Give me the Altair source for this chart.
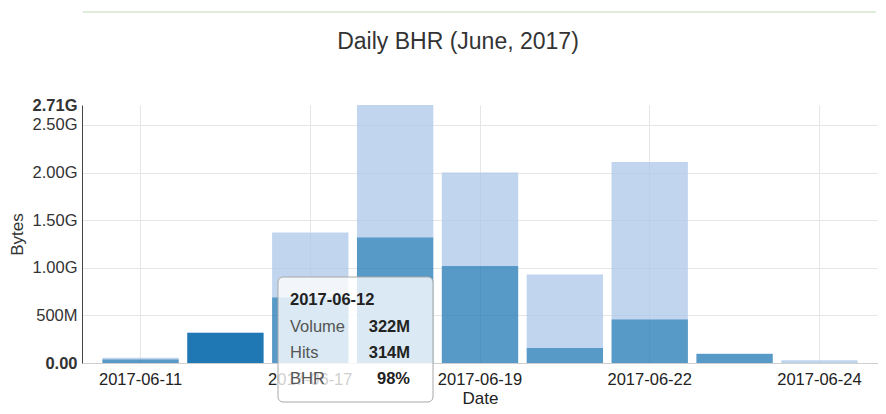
import altair as alt
import pandas as pd

# ---- data ----
dates = ["2017-06-11", "2017-06-12", "2017-06-17", "2017-06-18", "2017-06-19",
         "2017-06-21", "2017-06-22", "2017-06-23", "2017-06-24"]
volume = [56e6, 322e6, 1.37e9, 2.71e9, 2.00e9, 0.93e9, 2.11e9, 0.10e9, 0.03e9]
hits = [40e6, 314e6, 0.69e9, 1.32e9, 1.02e9, 0.16e9, 0.46e9, 0.095e9, 0.002e9]
label_dates = ["2017-06-11", "2017-06-17", "2017-06-19", "2017-06-22", "2017-06-24"]
y_ticks = [0, 5e8, 1e9, 1.5e9, 2e9, 2.5e9, 2.71e9]
hover_date = "2017-06-12"
tooltip_volume = "322M"
tooltip_hits = "314M"

FONT = "Liberation Sans"
W, H = 796, 258

df = pd.DataFrame({"date": dates, "volume": volume, "hits": hits})
df["miss_top"] = df["volume"]

xenc = alt.X(
    "date:N", sort=dates,
    scale=alt.Scale(paddingInner=0.1, paddingOuter=0.24),
    axis=alt.Axis(
        values=label_dates, labelAngle=0, labelFont=FONT, labelFontSize=16.5,
        labelColor="#222", labelPadding=8, ticks=False, domainColor="#cfcfcf",
        gridColor="#e6e6e6", grid=True, title="Date", titleFont=FONT,
        titleFontSize=17, titleFontWeight="normal", titleColor="#222",
        titlePadding=3,
    ),
)

yaxis = alt.Axis(
    values=y_ticks,
    labelExpr="datum.value == 0 ? '0.00' : (datum.value < 1e9 ? format(datum.value/1e6, 'd') + 'M' : format(datum.value/1e9, '.2f') + 'G')",
    labelFont=FONT, labelFontSize=16.5, labelColor="#333", labelPadding=5,
    labelOverlap=False,
    labelFontWeight={"condition": {"test": "datum.value == 0 || datum.value > 2.6e9", "value": "bold"}, "value": "normal"},
    ticks=False, domainColor="#444",
    grid=True, gridColor="#e6e6e6",
    gridOpacity={"condition": {"test": "datum.value > 2.6e9", "value": 0}, "value": 1},
    title="Bytes", titleFont=FONT, titleFontSize=17, titleFontWeight="normal",
    titleColor="#333", titleX=-65, titleY=H / 2, titleAngle=-90,
    titleAlign="center", titleBaseline="middle",
)

opacity = alt.condition(alt.datum.date == hover_date, alt.value(1.0), alt.value(0.75))

hits_bar = alt.Chart(df).mark_bar(color="#1f77b4").encode(
    x=xenc,
    y=alt.Y("hits:Q", scale=alt.Scale(domain=[0, 2.71e9], nice=False, zero=True), axis=yaxis),
    fillOpacity=opacity,
)

miss_bar = alt.Chart(df).mark_bar(color="#aec7e8").encode(
    x=alt.X("date:N", sort=dates),
    y=alt.Y("hits:Q"),
    y2=alt.Y2("miss_top:Q"),
    fillOpacity=opacity,
)

# top decorative separator line
sep = alt.Chart(pd.DataFrame({"k": [0]})).mark_rule(color="#d3e6cb", strokeWidth=1.5).encode(
    x=alt.value(1), x2=alt.value(W - 2), y=alt.value(-93)
)

# tooltip overlay
hv = df[df["date"] == hover_date].iloc[0]
bhr = f"{round(hv['hits'] / hv['volume'] * 100):d}%"
one = pd.DataFrame({"k": [0]})
box = alt.Chart(one).mark_rect(
    fill="white", fillOpacity=0.78, stroke="#a8a8a8", strokeWidth=1, cornerRadius=5
).encode(x=alt.value(196), x2=alt.value(351), y=alt.value(172), y2=alt.value(297))

def txt(s, x, y, bold=False, color="#555", align="left"):
    return alt.Chart(one).mark_text(
        text=s, font=FONT, fontSize=16.5, fontWeight="bold" if bold else "normal",
        color=color, align=align, baseline="middle"
    ).encode(x=alt.value(x), y=alt.value(y))

tip = [
    txt(hover_date, 208, 195, bold=True, color="#222"),
    txt("Volume", 208, 222),
    txt(tooltip_volume, 328, 222, bold=True, color="#222", align="right"),
    txt("Hits", 208, 248),
    txt(tooltip_hits, 328, 248, bold=True, color="#222", align="right"),
    txt("BHR", 208, 274),
    txt(bhr, 328, 274, bold=True, color="#222", align="right"),
]

chart = alt.layer(hits_bar, miss_bar, sep, box, *tip).properties(
    width=W, height=H,
    padding={"left": 74, "top": 97, "right": 0, "bottom": 45},
    autosize=alt.AutoSizeParams(type="none"),
    title=alt.TitleParams(
        "Daily BHR (June, 2017)", font=FONT, fontSize=23, fontWeight="normal",
        color="#333", anchor="middle", frame="group", dx=-22, offset=-61,
        baseline="alphabetic",
    ),
).configure_view(stroke=None)

chart.save("out.html", embed_options={"renderer": "svg", "actions": False})
